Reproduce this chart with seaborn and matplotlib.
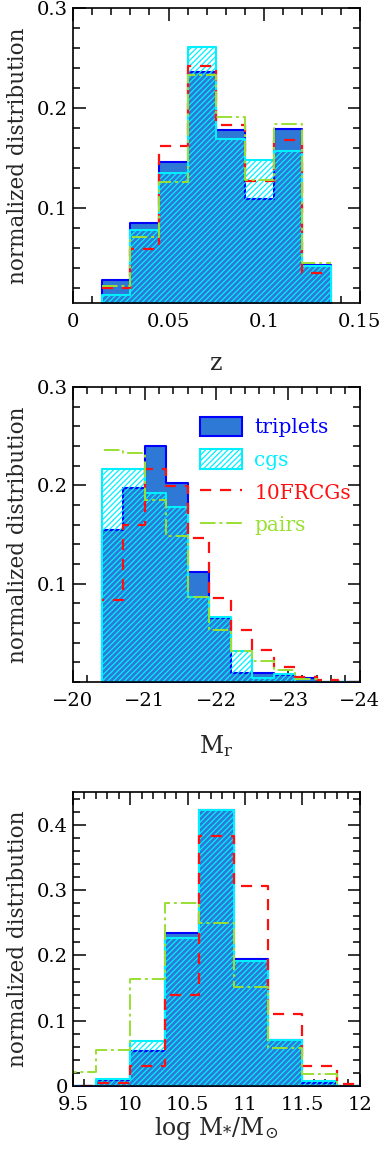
import numpy as np
import matplotlib
matplotlib.use('Agg')
import matplotlib.pyplot as plt
import seaborn as sns
from matplotlib.patches import Patch
from matplotlib.lines import Line2D
from matplotlib.ticker import MultipleLocator

# redshift panel
z_edges = [0.015, 0.03, 0.045, 0.06, 0.075, 0.09, 0.105, 0.12, 0.135]
z_centers = [0.0225, 0.0375, 0.0525, 0.0675, 0.0825, 0.0975, 0.1125, 0.1275]
z_triplets = [0.028, 0.085, 0.146, 0.236, 0.178, 0.109, 0.179, 0.043]
z_cgs = [0.013, 0.078, 0.135, 0.261, 0.169, 0.148, 0.157, 0.042]
z_frcg = [0.020, 0.059, 0.162, 0.242, 0.183, 0.127, 0.168, 0.035]
z_pairs = [0.022, 0.071, 0.126, 0.233, 0.191, 0.128, 0.184, 0.045]

# absolute magnitude panel
mr_edges = [-24.0, -23.7, -23.4, -23.1, -22.8, -22.5, -22.2, -21.9, -21.6, -21.3, -21.0, -20.7, -20.4]
mr_centers = [-20.55, -20.85, -21.15, -21.45, -21.75, -22.05, -22.35, -22.65, -22.95, -23.25, -23.55, -23.85]
mr_triplets = [0.155, 0.197, 0.240, 0.202, 0.112, 0.065, 0.0095, 0.0095, 0.007, 0.004, 0.0, 0.0]
mr_cgs = [0.217, 0.217, 0.192, 0.178, 0.086, 0.066, 0.031, 0.004, 0.008, 0.0, 0.0, 0.0]
mr_frcg = [0.083, 0.160, 0.217, 0.199, 0.146, 0.085, 0.053, 0.032, 0.015, 0.0055, 0.0015, 0.0]
mr_pairs = [0.236, 0.233, 0.185, 0.148, 0.086, 0.053, 0.031, 0.021, 0.012, 0.003, 0.0, 0.0]

# stellar mass panel
ms_edges = [9.4, 9.7, 10.0, 10.3, 10.6, 10.9, 11.2, 11.5, 11.8, 12.1]
ms_centers = [9.55, 9.85, 10.15, 10.45, 10.75, 11.05, 11.35, 11.65, 11.95]
ms_triplets = [0.0, 0.009, 0.053, 0.235, 0.423, 0.194, 0.071, 0.005, 0.0]
ms_cgs = [0.0, 0.010, 0.069, 0.227, 0.423, 0.192, 0.070, 0.008, 0.0]
ms_frcg = [0.0, 0.005, 0.031, 0.140, 0.383, 0.306, 0.110, 0.030, 0.003]
ms_pairs = [0.022, 0.055, 0.164, 0.281, 0.250, 0.152, 0.058, 0.018, 0.0]

labels = ['triplets', 'cgs', '10FRCGs', 'pairs']
c_fill = '#2e78d6'
c_blue = '#0000ff'
c_cyan = '#00f0ff'
c_red = '#ff1010'
c_green = '#99e033'

sns.set_style('ticks')
plt.rcParams['font.family'] = ['DejaVu Serif']
plt.rcParams['mathtext.fontset'] = 'dejavuserif'
plt.rcParams['hatch.linewidth'] = 0.9
plt.rcParams['hatch.color'] = c_cyan


def draw_panel(ax, centers, edges, trip, cgs, frcg, pairs):
    sns.histplot(x=centers, weights=trip, bins=edges, element='step', fill=True,
                 color=c_fill, alpha=1, edgecolor=c_blue, linewidth=1.5, ax=ax)
    sns.histplot(x=centers, weights=cgs, bins=edges, element='step', fill=True,
                 color=c_cyan, edgecolor=c_cyan, hatch='//////', linewidth=1.5,
                 alpha=1, ax=ax)
    ax.collections[-1].set_facecolor('none')
    sns.histplot(x=centers, weights=frcg, bins=edges, element='step', fill=False,
                 color=c_red, linestyle=(0, (5, 4)), linewidth=1.6, ax=ax)
    sns.histplot(x=centers, weights=pairs, bins=edges, element='step', fill=False,
                 color=c_green, linestyle=(0, (8, 2, 1.5, 2)), linewidth=1.4, ax=ax)
    ax.tick_params(which='both', direction='in', top=True, right=True,
                   labelsize=14, colors='black', width=1.1)
    ax.tick_params(axis='x', which='both', pad=7)
    ax.tick_params(which='major', length=9)
    ax.tick_params(which='minor', length=5)
    for s in ax.spines.values():
        s.set_linewidth(1.2)
        s.set_color('black')
    ax.set_ylabel('normalized distribution', fontsize=15.5, labelpad=6)


fig = plt.figure(figsize=(3.82, 11.5), dpi=100)
ax1 = fig.add_axes([0.191, 0.7365, 0.751, 0.2565])
ax2 = fig.add_axes([0.191, 0.407, 0.751, 0.2565])
ax3 = fig.add_axes([0.191, 0.0557, 0.751, 0.2553])

# panel 1: z
draw_panel(ax1, z_centers, z_edges, z_triplets, z_cgs, z_frcg, z_pairs)
ax1.set_xlim(0, 0.15)
ax1.set_ylim(0.005, 0.3)
ax1.set_xticks([0, 0.05, 0.1, 0.15])
ax1.set_xticklabels(['0', '0.05', '0.1', '0.15'])
ax1.set_yticks([0.1, 0.2, 0.3])
ax1.set_yticklabels(['0.1', '0.2', '0.3'])
ax1.xaxis.set_minor_locator(MultipleLocator(0.01))
ax1.yaxis.set_minor_locator(MultipleLocator(0.02))
ax1.set_xlabel('z', fontsize=17, labelpad=15)

# panel 2: M_r
draw_panel(ax2, mr_centers, mr_edges, mr_triplets, mr_cgs, mr_frcg, mr_pairs)
ax2.set_xlim(-20, -24)
ax2.set_ylim(0, 0.3)
ax2.set_xticks([-20, -21, -22, -23, -24])
ax2.set_xticklabels(['\u221220', '\u221221', '\u221222', '\u221223', '\u221224'])
ax2.set_yticks([0.1, 0.2, 0.3])
ax2.set_yticklabels(['0.1', '0.2', '0.3'])
ax2.xaxis.set_minor_locator(MultipleLocator(0.2))
ax2.yaxis.set_minor_locator(MultipleLocator(0.02))
ax2.set_xlabel(r'M$_{\rm r}$', fontsize=17, labelpad=17)

handles = [
    Patch(facecolor=c_fill, edgecolor=c_blue, linewidth=1.5),
    Patch(facecolor='white', edgecolor=c_cyan, hatch='//////', linewidth=1.5),
    Line2D([], [], color=c_red, linestyle=(0, (5, 4)), linewidth=1.6),
    Line2D([], [], color=c_green, linestyle=(0, (8, 2, 1.5, 2)), linewidth=1.4),
]
ax2.legend(handles, labels, loc='upper left', bbox_to_anchor=(0.38, 0.96),
           frameon=False, fontsize=14.5, handlelength=2.1, handleheight=1.1,
           labelspacing=0.6, handletextpad=0.6,
           labelcolor=[c_blue, c_cyan, c_red, c_green])

# panel 3: stellar mass
draw_panel(ax3, ms_centers, ms_edges, ms_triplets, ms_cgs, ms_frcg, ms_pairs)
ax3.set_xlim(9.5, 12)
ax3.set_ylim(0, 0.45)
ax3.set_xticks([9.5, 10, 10.5, 11, 11.5, 12])
ax3.set_xticklabels(['9.5', '10', '10.5', '11', '11.5', '12'])
ax3.set_yticks([0, 0.1, 0.2, 0.3, 0.4])
ax3.set_yticklabels(['0', '0.1', '0.2', '0.3', '0.4'])
ax3.xaxis.set_minor_locator(MultipleLocator(0.1))
ax3.yaxis.set_minor_locator(MultipleLocator(0.02))
ax3.set_xlabel(r'log M$_{*}$/M$_{\odot}$', fontsize=17, labelpad=1)

fig.savefig('out.png', dpi=100)
